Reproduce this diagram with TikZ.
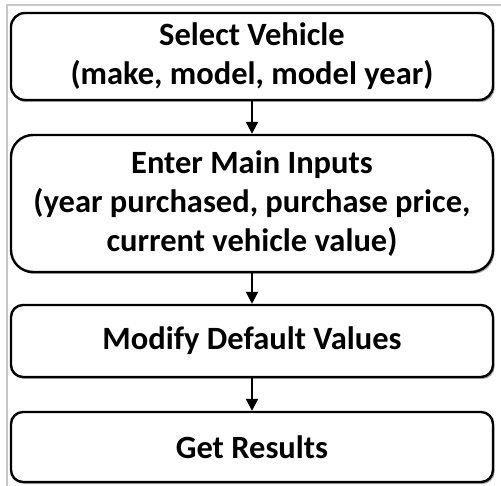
\documentclass[tikz,border=0pt]{standalone}
\usepackage{fontspec}
\setmainfont{Carlito}
\usetikzlibrary{arrows.meta,shadows}
\begin{document}
\begin{tikzpicture}[x=1pt,y=-1pt,
  stepbox/.style={draw=black, line width=2.4pt, fill=white, rounded corners=#1,
    minimum width=482pt, inner sep=0pt, align=center,
    font=\fontsize{32.5}{39}\selectfont\bfseries,
    drop shadow={shadow xshift=1.5pt, shadow yshift=-2pt, opacity=0.35, fill=black}},
  conn/.style={line width=2.2pt, -{Triangle[width=12pt,length=12pt]}},
  frame/.style={draw=black!22, line width=1.8pt}]
\useasboundingbox (0,0) rectangle (501,486);
\draw[frame] (7,486) -- (7,5) -- (501,5);
\node[stepbox=14pt, minimum height=87pt] (a) at (252,56.5) {Select Vehicle\\(make, model, model year)};
\node[stepbox=22pt, minimum height=137pt] (b) at (252,203.5) {Enter Main Inputs\\(year purchased, purchase price,\\current vehicle value)};
\node[stepbox=12pt, minimum height=72pt] (c) at (252,341) {Modify Default Values};
\node[stepbox=12pt, minimum height=70pt] (d) at (252,447) {Get Results};
\draw[conn] (a.south) -- (b.north);
\draw[conn] (b.south) -- (c.north);
\draw[conn] (c.south) -- (d.north);
\end{tikzpicture}
\end{document}
